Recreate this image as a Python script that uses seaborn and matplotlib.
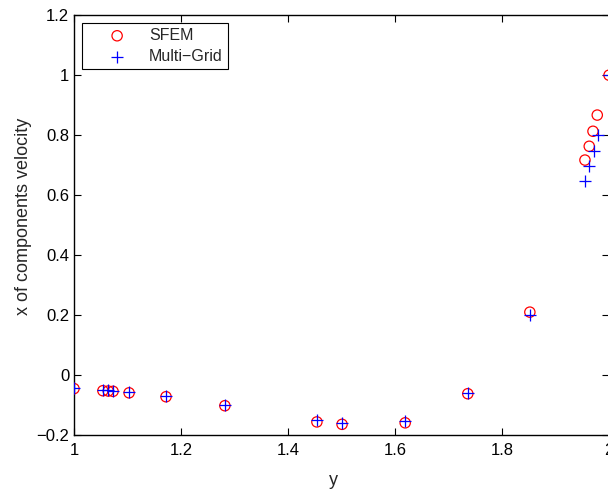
import numpy as np
import matplotlib
matplotlib.use("Agg")
import matplotlib.pyplot as plt
import seaborn as sns

# data
sfem_x = [1.0, 1.054, 1.064, 1.073, 1.103, 1.172, 1.282, 1.454, 1.501, 1.619, 1.736, 1.852,
          1.955, 1.963, 1.970, 1.978, 2.0]
sfem_y = [-0.045, -0.052, -0.053, -0.054, -0.059, -0.072, -0.102, -0.156, -0.164, -0.159, -0.062, 0.21,
          0.717, 0.763, 0.813, 0.867, 1.0]

mg_x = [1.0, 1.054, 1.064, 1.073, 1.103, 1.172, 1.282, 1.454, 1.501, 1.619, 1.736, 1.852,
        1.955, 1.963, 1.972, 1.979, 2.0]
mg_y = [-0.044, -0.050, -0.051, -0.052, -0.057, -0.070, -0.098, -0.150, -0.160, -0.152, -0.060, 0.20,
        0.647, 0.697, 0.747, 0.80, 1.0]

xticks = [1.0, 1.2, 1.4, 1.6, 1.8, 2.0]
xtick_labels = ["1", "1.2", "1.4", "1.6", "1.8", "2"]
yticks = [-0.2, 0.0, 0.2, 0.4, 0.6, 0.8, 1.0, 1.2]
ytick_labels = ["\u22120.2", "0", "0.2", "0.4", "0.6", "0.8", "1", "1.2"]

sns.set_style("ticks")
plt.rcParams["font.family"] = ["Liberation Sans", "DejaVu Sans"]

fig = plt.figure(figsize=(6.08, 4.9), dpi=100)
ax = fig.add_axes([0.1217, 0.112, 0.88, 0.857])

sns.scatterplot(x=sfem_x, y=sfem_y, marker="o", s=55, facecolors="none",
                edgecolor="red", linewidth=0.9, label="SFEM", ax=ax, zorder=3)
sns.scatterplot(x=mg_x, y=mg_y, marker="+", s=75, color="blue",
                linewidth=0.9, label="Multi\u2212Grid", ax=ax, zorder=4)

ax.set_xlim(1.0, 2.0)
ax.set_ylim(-0.2, 1.2)
ax.set_xticks(xticks)
ax.set_xticklabels(xtick_labels)
ax.set_yticks(yticks)
ax.set_yticklabels(ytick_labels)
ax.tick_params(direction="in", top=True, right=True, length=5, width=0.8,
               labelsize=12, colors="black")
ax.tick_params(axis="x", pad=6)
for s in ax.spines.values():
    s.set_linewidth(1.0)
    s.set_color("black")

ax.set_xlabel("y", fontsize=13, labelpad=9.5)
ax.set_ylabel("x of components velocity", fontsize=13, labelpad=3)
ax.xaxis.label.set_x(0.484)
ax.yaxis.label.set_y(0.521)

leg = ax.legend(loc="upper left", scatterpoints=1, fontsize=11.5, fancybox=False,
                edgecolor="black", framealpha=1, borderaxespad=0.5,
                handlelength=3.8, handletextpad=0.1, borderpad=0.3, labelspacing=0.37)
leg.get_frame().set_linewidth(0.8)

fig.savefig("out.png", dpi=100)
